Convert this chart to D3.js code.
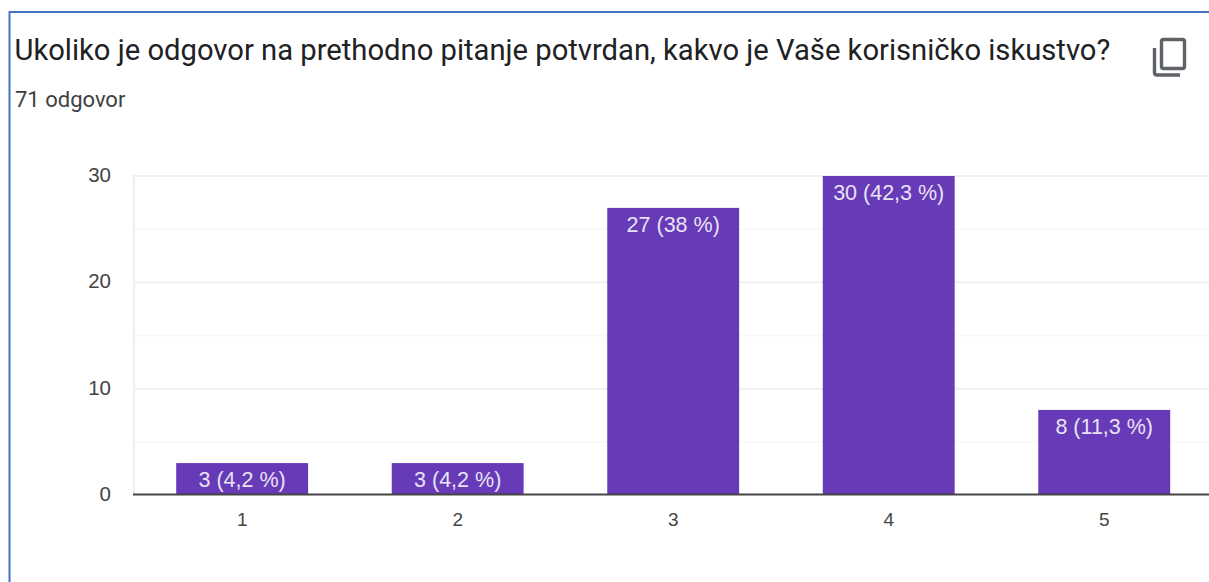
<!DOCTYPE html>
<html>
<head>
<meta charset="utf-8">
<script src="https://cdn.jsdelivr.net/npm/d3@7"></script>
<style>
html,body{margin:0;padding:0;background:#fff;overflow:hidden}
text{font-family:Roboto,sans-serif}
.lab text, text.lab{font-family:"Liberation Sans",Arial,sans-serif}
</style>
</head>
<body>
<svg width="1209" height="582"></svg>
<script>
const categories = ['1','2','3','4','5'];
const counts = [3,3,27,30,8];
const percents = ['4,2','4,2','38','42,3','11,3'];
const yTicks = [0,10,20,30];
const minorTicks = [5,15,25];

const svg = d3.select('svg');
const plotL = 134.4, plotR = 1212, plotT = 176, plotB = 495;

// screenshot frame, only top and left edge are visible
svg.append('path')
    .attr('d','M9.5,582V12H1209')
    .attr('fill','none')
    .attr('stroke','#4472c4')
    .attr('stroke-width',2);

svg.append('text')
    .attr('x',14.5).attr('y',60)
    .attr('font-size',29.2)
    .attr('fill','#202124')
    .text('Ukoliko je odgovor na prethodno pitanje potvrdan, kakvo je Vaše korisničko iskustvo?');

svg.append('text')
    .attr('x',15).attr('y',107)
    .attr('font-size',22)
    .attr('fill','#3c4043')
    .text('71 odgovor');

// copy icon
const icon = svg.append('g').attr('fill','none').attr('stroke','#5f6368').attr('stroke-width',3.4);
icon.append('rect').attr('x',1161.5).attr('y',39.5).attr('width',23).attr('height',29).attr('rx',2);
icon.append('path').attr('d','M1154.5,48V72.5Q1154.5,75 1157,75H1180');

const xScale = d3.scaleBand()
    .domain(categories)
    .range([plotL,plotR])
    .paddingInner(0.388)
    .paddingOuter(0.194);

const yScale = d3.scaleLinear()
    .domain([0,30])
    .range([plotB,plotT]);

const grid = svg.append('g');
grid.selectAll('line.minor')
    .data(minorTicks)
    .enter().append('line')
    .attr('class','minor')
    .attr('x1',134).attr('x2',1209)
    .attr('y1',d=>yScale(d)).attr('y2',d=>yScale(d))
    .attr('stroke','#f8f8f8')
    .attr('stroke-width',1.5);
grid.selectAll('line.major')
    .data(yTicks.slice(1))
    .enter().append('line')
    .attr('class','major')
    .attr('x1',134).attr('x2',1209)
    .attr('y1',d=>yScale(d)).attr('y2',d=>yScale(d))
    .attr('stroke','#efefef')
    .attr('stroke-width',2);
grid.append('line')
    .attr('x1',134).attr('x2',134)
    .attr('y1',plotT-1).attr('y2',plotB)
    .attr('stroke','#efefef')
    .attr('stroke-width',2);

const data = categories.map((c,i)=>({cat:c,count:counts[i],pct:percents[i]}));

svg.selectAll('rect.bar')
    .data(data)
    .enter().append('rect')
    .attr('class','bar')
    .attr('x',d=>xScale(d.cat))
    .attr('width',xScale.bandwidth())
    .attr('y',d=>yScale(d.count))
    .attr('height',d=>plotB-yScale(d.count))
    .attr('fill','#673ab7');

svg.selectAll('text.barlabel')
    .data(data)
    .enter().append('text')
    .attr('class','barlabel lab')
    .attr('x',d=>xScale(d.cat)+xScale.bandwidth()/2)
    .attr('y',d=>yScale(d.count)+24)
    .attr('text-anchor','middle')
    .attr('font-size',21.5)
    .attr('fill','#e8e3f4')
    .text(d=>`${d.count} (${d.pct} %)`);

// axes
const gX = svg.append('g')
    .attr('class','lab')
    .attr('transform',`translate(0,${plotB})`)
    .call(d3.axisBottom(xScale).tickSize(0).tickPadding(18));
gX.select('.domain').remove();
gX.selectAll('text').attr('font-size',19).attr('fill','#444');

svg.append('line')
    .attr('x1',133).attr('x2',1209)
    .attr('y1',494.5).attr('y2',494.5)
    .attr('stroke','#444')
    .attr('stroke-width',2);

const gY = svg.append('g')
    .attr('class','lab')
    .attr('transform','translate(134,-1)')
    .call(d3.axisLeft(yScale).tickValues(yTicks).tickSize(0).tickPadding(23));
gY.select('.domain').remove();
gY.selectAll('text').attr('font-size',20.5).attr('fill','#444');
</script>
</body>
</html>
